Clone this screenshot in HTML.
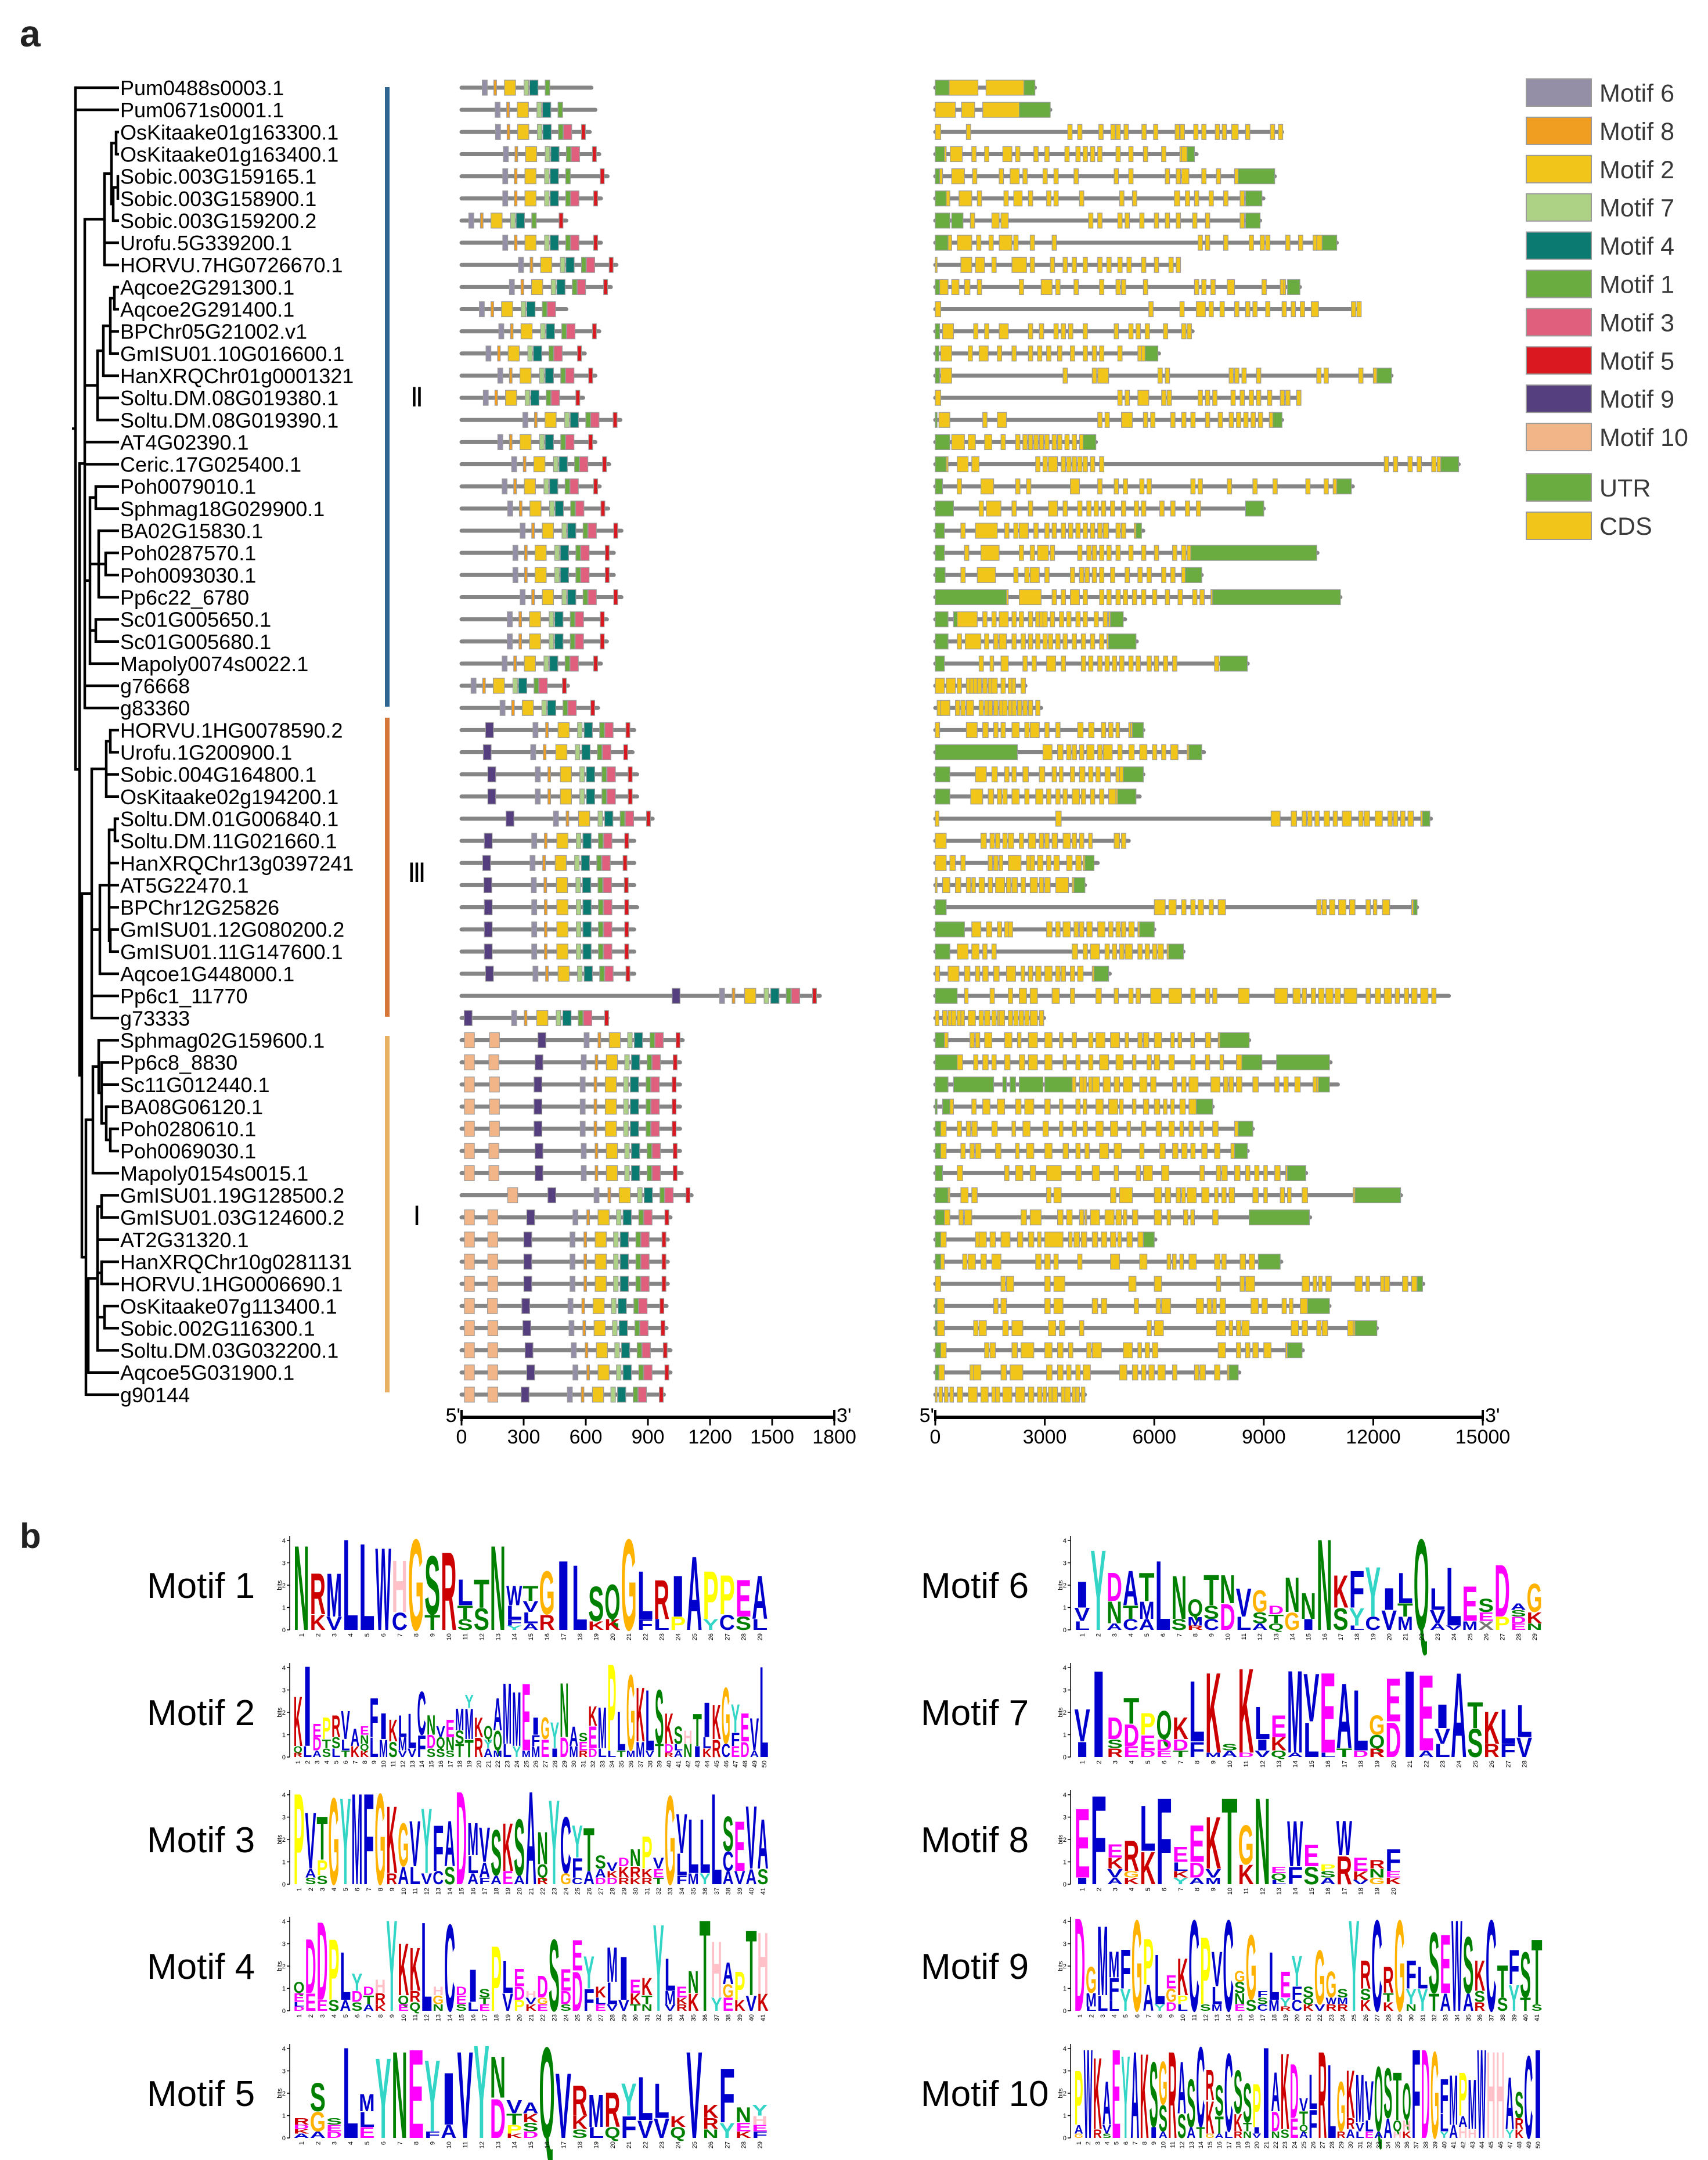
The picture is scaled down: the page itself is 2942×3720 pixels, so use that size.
<!DOCTYPE html>
<html>
<head>
<meta charset="utf-8">
<style>
html,body{margin:0;padding:0;background:#fff;}
svg{display:block;}
text{font-family:"Liberation Sans",Arial,sans-serif;}
</style>
</head>
<body>
<svg id="fig" xmlns="http://www.w3.org/2000/svg" width="2942" height="3720" viewBox="0 0 2942 3720">
<rect x="0" y="0" width="2942" height="3720" fill="#fff"/>
<text x="34" y="80" font-size="64" font-weight="bold" fill="#222">a</text>
<text x="34" y="2666" font-size="60" font-weight="bold" fill="#222">b</text>
</svg>
<script>
// ---------------- DATA ----------------
const geneNames = ["Pum0488s0003.1","Pum0671s0001.1","OsKitaake01g163300.1","OsKitaake01g163400.1","Sobic.003G159165.1","Sobic.003G158900.1","Sobic.003G159200.2","Urofu.5G339200.1","HORVU.7HG0726670.1","Aqcoe2G291300.1","Aqcoe2G291400.1","BPChr05G21002.v1","GmISU01.10G016600.1","HanXRQChr01g0001321","Soltu.DM.08G019380.1","Soltu.DM.08G019390.1","AT4G02390.1","Ceric.17G025400.1","Poh0079010.1","Sphmag18G029900.1","BA02G15830.1","Poh0287570.1","Poh0093030.1","Pp6c22_6780","Sc01G005650.1","Sc01G005680.1","Mapoly0074s0022.1","g76668","g83360","HORVU.1HG0078590.2","Urofu.1G200900.1","Sobic.004G164800.1","OsKitaake02g194200.1","Soltu.DM.01G006840.1","Soltu.DM.11G021660.1","HanXRQChr13g0397241","AT5G22470.1","BPChr12G25826","GmISU01.12G080200.2","GmISU01.11G147600.1","Aqcoe1G448000.1","Pp6c1_11770","g73333","Sphmag02G159600.1","Pp6c8_8830","Sc11G012440.1","BA08G06120.1","Poh0280610.1","Poh0069030.1","Mapoly0154s0015.1","GmISU01.19G128500.2","GmISU01.03G124600.2","AT2G31320.1","HanXRQChr10g0281131","HORVU.1HG0006690.1","OsKitaake07g113400.1","Sobic.002G116300.1","Soltu.DM.03G032200.1","Aqcoe5G031900.1","g90144"];

const protLen = [627,646,619,665,705,673,506,673,748,721,506,665,595,646,587,767,646,713,667,708,772,735,735,772,702,702,673,514,659,
834,826,848,848,923,834,834,834,848,834,834,834,1730,705,
1068,1055,1055,1055,1055,1055,1063,1111,1009,996,996,996,990,990,1009,1009,977];
const protAnchor = [100,162,164,202,199,199,35,199,275,231,86,180,118,175,105,296,175,242,196,223,283,248,248,283,221,221,196,46,186,
116,105,127,127,215,110,102,108,110,110,110,116,1017,13,
369,355,350,350,350,355,355,417,315,301,301,301,291,296,307,315,288];
const protM5 = [-1,-1,579,632,670,638,471,638,713,686,-1,632,560,614,552,732,614,681,638,673,735,694,694,735,670,670,638,487,624,
794,783,805,805,893,788,780,786,788,788,788,794,1695,691,
1036,1022,1017,1017,1017,1022,1022,1084,982,968,968,968,958,963,974,982,955];
const protHas3 = [0,0,1,1,0,1,0,1,1,1,1,1,1,1,1,1,1,1,1,1,1,1,1,1,1,1,1,1,1,
1,1,1,1,1,1,1,1,1,1,1,1,1,1,
1,1,1,1,1,1,1,1,1,1,1,1,1,1,1,1,1];
const protM10 = [[],[],[],[],[],[],[],[],[],[],[],[],[],[],[],[],[],[],[],[],[],[],[],[],[],[],[],[],[],
[],[],[],[],[],[],[],[],[],[],[],[],[],[],
[14,135],[14,132],[14,135],[14,135],[14,135],[14,132],[14,132],[223],[14,127],[14,127],[14,127],[14,127],[14,125],[14,127],[14,127],[14,127],[14,127]];
const protClade = [2,2,2,2,2,2,2,2,2,2,2,2,2,2,2,2,2,2,2,2,2,2,2,2,2,2,2,2,2,
3,3,3,3,3,3,3,3,3,3,3,3,3,3,
1,1,1,1,1,1,1,1,1,1,1,1,1,1,1,1,1];
const tplII  = [[6,0],[8,56],[2,107],[7,202],[4,229],[1,304],[3,328]];
const tplIII = [[9,0],[6,229],[8,290],[2,350],[7,444],[4,476],[1,551],[3,576]];
const tplI   = [[9,0],[6,223],[8,290],[2,344],[7,433],[4,465],[1,541],[3,565]];
const motifWidth = {1:22,2:54,3:40,4:40,5:19,6:24,7:22,8:13,9:38,10:48};

const geneLen = [2.73,3.15,9.5,7.16,9.3,8.99,8.9,11,6.67,9.99,11.6,7.05,6.13,12.5,9.97,9.5,4.4,14.34,11.44,9.0,5.7,10.47,7.3,11.1,5.2,5.52,8.56,2.47,2.9,
5.7,7.36,5.7,5.6,13.58,5.3,4.45,4.1,13.2,6.0,6.8,4.78,14.07,2.98,
8.6,10.83,11.03,7.6,8.7,8.56,10.16,12.76,10.27,6.03,9.48,13.37,10.8,12.1,10.07,8.33,4.1];
const geneExons = [
"U0-.38 C.38-1.17 C1.39-2.43 U2.43-2.73",
"C0-.55 C.72-1.08 C1.3-2.3 U2.3-3.15",
"C0-.15 C.85 C3.63 C3.9 C4.48 C4.81 C4.95 C5.17 C5.66 C5.98 C6.57 C6.71 C7.08 C7.3 C7.67 C7.86 C8.12-8.3 C8.5 C9.18 C9.4",
"U0-.25 C.25-.3 C.41-.74 C1 C1.35 C1.85-2.1 C2.2 C2.7 C3 C3.55 C3.85 C4.05 C4.25 C4.45 C4.95 C5.3 C5.7 C6.2 C6.7 C6.75-6.9 U6.9-7.1",
"U0-.12 C.12-.2 C.45-.8 C1.02 C1.75 C2.05-2.3 C2.4 C2.95 C3.25 C3.8 C4.9 C5.3 C6.3 C6.6 C6.75-6.95 C7.3 C7.7 C8.2 U8.3-9.3",
"U0-.3 C.3-.4 C.65-1.0 C1.15 C1.88 C2.15-2.38 C2.55 C3.05 C3.25 C3.95 C5.05 C5.4 C6.55-6.7 C6.85 C7.1 C7.5 C7.9 C8.35 U8.5-8.95",
"U0-.4 U.45-.76 C.96 C1.55-1.75 C1.8-2.0 C4.2 C4.45 C5.0 C5.2 C5.6 C6.0 C6.3 C6.6 C7.05 C7.4 C8.35 U8.5-8.9",
"U0-.35 C.35-.45 C.6-1.0 C1.13 C1.47 C1.75-2.1 C2.15 C2.6 C3.2 C7.2 C7.4 C7.9 C8.6 C8.9 C9.05 C9.6 C9.95 C10.35 C10.45-10.6 U10.6-11",
"C0-.05 C.7-1.0 C1.1-1.35 C1.55 C2.1-2.5 C2.6 C3.15 C3.5 C3.75 C4.05 C4.45 C4.7 C5.0 C5.25 C5.65 C6.0 C6.4 C6.6",
"U0-.12 C.12-.35 C.45-.65 C.8-.95 C1.15 C2.3 C2.9-3.2 C3.3 C3.8 C4.5 C4.95 C5.1 C5.7 C7.1 C7.3 C7.55 C8.0-8.2 C8.95 C9.45 C9.55-9.6 U9.65-9.99",
"C0-.15 C5.85 C6.7 C7.15-7.4 C7.5 C7.8 C8.2 C8.5 C8.7 C9.05 C9.5 C9.75 C10.0 C10.3-10.5 C11.4 C11.55",
"U0-.12 C.2-.5 C1.05 C1.35 C1.75-2.0 C2.55 C2.85 C3.25 C3.45 C3.65 C4.05 C4.9 C5.3 C5.5 C5.75 C6.25 C6.75 C6.9",
"U0-.1 C.15-.45 C.9 C1.2-1.45 C1.7 C2.1 C2.55 C2.8 C3.05 C3.35 C3.7 C4.05 C4.3 C4.5 C5.0 C5.55 C5.65-5.75 U5.75-6.1",
"U0-.12 C.15-.45 C3.5 C4.3 C4.45-4.75 C6.1 C6.3 C8.05 C8.2 C8.4 C8.8 C10.45 C10.65 C11.6 C12.0-12.1 U12.1-12.5",
"C0-.15 C5.0 C5.2 C5.55-5.85 C6.2 C6.35 C7.2 C7.4 C7.6 C8.1 C8.35 C8.6 C8.8 C9.1 C9.45 C9.6 C9.9",
"U0-.05 C.1-.4 C1.3 C1.7-1.95 C4.45 C4.65 C5.1-5.4 C5.7 C5.9 C6.45 C6.75 C7.0 C7.4 C7.75 C8.05 C8.25 C8.45 C8.65 C8.85 C9.15 U9.25-9.5",
"U0-.4 C.45-.8 C.9-1.1 C1.35-1.55 C1.8 C2.2 C2.4 C2.55 C2.7 C2.85 C3.0 C3.2 C3.35 C3.55 C3.75 C3.95 U4.05-4.4",
"U0-.3 C.3-.35 C.6-.9 C1.0-1.2 C2.75 C2.95 C3.1-3.35 C3.45 C3.6 C3.75 C3.9 C4.05 C4.25 C4.5 C12.3 C12.55 C12.95 C13.2 C13.6 C13.75-13.85 U13.85-14.34",
"U0-.2 C.6 C1.25-1.6 C2.2 C2.5 C3.7-3.95 C4.45 C4.9 C5.15 C5.6 C5.8 C7.0 C7.2 C8.0 C8.7 C9.25 C10.15 C10.65 C10.9-11.0 U11.0-11.4",
"U0-.5 C1.2 C1.4-1.8 C2.1 C2.55 C3.1-3.35 C3.5 C3.9 C4.15 C4.35 C4.55 C4.8 C5.1 C5.45 C5.65 C6.15 C6.45 C6.85 C7.15 U8.5-9.0",
"U0-.25 C.7 C1.1-1.7 C1.9 C2.15 C2.3-2.55 C2.7 C3.0 C3.2 C3.45 C3.65 C3.85 C4.05 C4.25 C4.45 C4.6-4.75 C4.95 C5.1 C5.45-5.5 U5.5-5.65",
"U0-.25 C.8 C1.25-1.75 C2.3 C2.6 C2.8-3.1 C3.15 C3.9 C4.15 C4.3 C4.5 C4.7 C4.95 C5.3 C5.65 C6.0 C6.5 C6.75 C6.9-7.0 U7.0-10.45",
"U0-.27 C.7 C1.15-1.65 C2.15 C2.45 C2.6-2.85 C3.0 C3.7 C3.95 C4.1 C4.3 C4.5 C4.8 C5.2 C5.55 C5.8 C6.2 C6.45 C6.75-6.85 U6.85-7.3",
"U0-1.95 C1.95-2.0 C2.3-2.9 C3.2 C3.45 C3.7-3.95 C4.05 C4.5 C4.7 C4.95 C5.15 C5.4 C5.65 C5.95 C6.3 C6.65 C7.05 C7.25 C7.55-7.6 U7.6-11.1",
"U0-.35 U.5-.6 C.6-1.15 C1.3 C1.55 C1.75-2.0 C2.1 C2.3 C2.55 C2.75 C2.85 C2.95 C3.15 C3.4 C3.6 C3.85 C4.05 C4.35 C4.6 C4.75-4.8 U4.8-5.15",
"U0-.35 C.6 C.82-1.25 C1.35 C1.6 C1.75-1.95 C2.1 C2.35 C2.55 C2.75 C2.95 C3.1 C3.3 C3.5 C3.75 C4.0 C4.25 C4.5 C4.7-4.75 U4.75-5.5",
"U0-.25 C1.2 C1.5-1.6 C1.8-2.0 C2.4 C2.65 C3.05-3.3 C3.45 C4.0 C4.2 C4.45 C4.65 C4.85 C5.05 C5.3 C5.5 C5.8 C6.0 C6.25 C6.5 C7.65 U7.8-8.55",
"C0-.25 C.3-.55 C.6 C.85 C.95 C1.05 C1.15 C1.3 C1.45 C1.55-1.7 C1.8 C2.0 C2.1-2.2 C2.35",
"C.05 C.15-.4 C.55 C.7 C.85-1.05 C1.2 C1.35 C1.45 C1.6 C1.75 C1.85 C2.0 C2.1 C2.25 C2.4 C2.55 C2.75",
"C0 C.85-1.15 C1.3-1.45 C1.6 C1.8 C2.1-2.3 C2.45 C2.6-2.85 C3.0 C3.3 C3.9-4.05 C4.2-4.35 C4.55 C4.75 C4.95-5.05 C5.3 C5.35-5.4 U5.4-5.7",
"U0-2.25 C2.95-3.2 C3.35-3.5 C3.6 C3.75 C3.95 C4.15-4.35 C4.45 C4.6-4.85 C5.0 C5.3-5.45 C5.6-5.8 C5.95 C6.2 C6.45-6.65 C6.9-6.95 U6.95-7.3",
"U0-.4 C1.1-1.4 C1.55-1.7 C1.9 C2.1 C2.4-2.55 C2.85-3.0 C3.2 C3.4-3.5 C3.7 C3.95-4.1 C4.2 C4.4 C4.65-4.8 C4.95-5.05 C5.05-5.15 U5.15-5.7",
"U0-.4 C.97-1.3 C1.45-1.6 C1.7 C1.85 C2.1-2.3 C2.45 C2.75-2.95 C3.05 C3.3 C3.5 C3.75-3.95 C4.0 C4.25 C4.5 C4.75-4.95 C4.95-5.0 U5.0-5.5",
"C0-.1 C3.3-3.45 C9.2-9.45 C9.75-9.9 C10.05 C10.2 C10.4 C10.65-10.8 C10.9 C11.15-11.4 C11.6 C11.75-11.9 C12.05-12.25 C12.4 C12.55 C12.75 C12.95-13.1 C13.3-13.35 U13.35-13.55",
"C0-.3 C1.25-1.4 C1.5 C1.65 C1.85 C2.0-2.15 C2.3 C2.55-2.75 C2.85 C3.0 C3.2-3.35 C3.5-3.7 C3.75 C3.95 C4.2-4.3 C4.9-5.05 C5.1",
"C0-.3 C.4-.55 C.7 C1.45 C1.6 C1.75-1.85 C2.0-2.35 C2.5 C2.6 C2.8-2.95 C3.05 C3.25-3.4 C3.6-3.75 C3.85-4.0 C4.05-4.1 U4.1-4.35",
"C0-.05 C.2-.4 C.55-.7 C.85 C1.0-1.1 C1.2-1.35 C1.45 C1.65-1.9 C1.95 C2.1-2.25 C2.35 C2.6-2.8 C2.85 C3.0-3.15 C3.3-3.65 C3.75 U3.8-4.1",
"U0-.3 C6.0-6.3 C6.4-6.6 C6.75 C7.0 C7.2-7.35 C7.5 C7.75-7.95 C10.45 C10.6 C10.8-10.95 C11.05-11.25 C11.35-11.5 C11.8 C12.0-12.1 C12.25-12.45 C13.05-13.1 U13.1-13.2",
"U0-.8 C1.0-1.25 C1.4-1.55 C1.7 C1.9 C2.0 C3.05-3.2 C3.3 C3.5-3.7 C3.8 C3.95 C4.15-4.3 C4.45-4.65 C4.75 C4.95 C5.1 C5.3-5.45 C5.55-5.6 U5.6-6.0",
"U0-.4 C.6-.9 C1.0-1.2 C1.3 C1.55 C3.75-3.9 C4.05 C4.25-4.5 C4.65 C4.85 C5.05 C5.2-5.4 C5.55 C5.75 C5.95 C6.1-6.25 C6.35-6.4 U6.4-6.8",
"C0 C.35-.65 C.8-.95 C1.1 C1.3-1.45 C1.6-1.75 C1.95-2.2 C2.35-2.45 C2.55 C2.75-2.9 C3.0-3.2 C3.3 C3.45 C3.7 C3.9-4.05 C4.3-4.35 U4.35-4.75",
"U0-.6 C.8-.9 C1.5 C2.0 C2.3-2.5 C2.6-2.8 C3.2-3.4 C3.7 C4.4-4.55 C4.9 C5.3 C5.5 C5.9-6.2 C6.4-6.75 C7.0 C7.4 C7.6 C8.3-8.6 C9.3-9.65 C9.8-10.0 C10.05 C10.3 C10.5-10.65 C10.7-10.9 C10.95-11.1 C11.2-11.55 C11.8 C12.05-12.2 C12.3-12.5 C12.6 C12.85 C13.05-13.2 C13.3-13.5 C13.6",
"C0-.1 C.2 C.35 C.45 C.6 C.7-.8 C.9-1.1 C1.2 C1.35-1.5 C1.55 C1.7 C1.75-1.9 C2.0 C2.15 C2.3 C2.45 C2.6-2.8 C2.85",
"U0-.25 C.25-.35 C.95 C1.1 C1.35-1.55 C1.9-2.1 C2.25-2.35 C2.55-2.8 C3.0-3.2 C3.4-3.5 C3.75 C4.2 C4.4-4.65 C4.8-5.05 C5.2-5.3 C5.55 C5.7-5.85 C6.0-6.2 C6.45-6.55 C6.65-6.75 C7.0-7.1 C7.4-7.55 C7.75-7.8 U7.8-8.6",
"U0-.6 C.6-.75 C1.05 C1.3-1.45 C1.55 C1.9-2.05 C2.3-2.45 C2.55-2.8 C3.0-3.2 C3.5-3.6 C3.85 C4.2 C4.5-4.75 C4.95-5.15 C5.4-5.5 C5.8 C6.0-6.15 C6.4-6.55 C7.0 C7.4 C7.8-7.9 C8.25-8.4 U8.4-8.95 U9.35-10.8",
"U0-.35 U.5-1.6 U1.85-1.95 U2.05-2.2 U2.3-2.95 U3.0-3.75 C3.75-3.85 C3.95 C4.05-4.15 C4.2-4.3 C4.3-4.5 C4.6-4.8 C4.9-5.05 C5.15-5.4 C5.6-5.8 C5.9-6.05 C6.5 C6.75 C6.95-7.2 C7.55-7.8 C7.9 C8.05 C8.25-8.4 C8.7-8.85 C9.3 C9.55 C9.85-10.0 C10.35-10.5 C10.45-10.5 U10.5-10.8",
"U0-.05 U.2-.4 C.4-.5 C1.0 C1.3-1.5 C1.7-1.9 C2.2-2.35 C2.45-2.7 C3.0-3.15 C3.4-3.5 C3.85 C4.05-4.15 C4.4-4.6 C4.75-5.0 C5.05-5.15 C5.4-5.5 C5.7-5.85 C6.0-6.15 C6.25-6.35 C6.45-6.55 C6.7-6.85 C6.95-7.15 U7.15-7.6",
"U0-.15 C.15-.3 C.6 C.85 C1.0-1.15 C1.55-1.7 C2.1-2.2 C2.4-2.6 C2.95-3.1 C3.4-3.5 C3.75 C4.05 C4.4-4.6 C4.8-5.0 C5.25-5.35 C5.65 C6.05-6.2 C6.4-6.55 C6.7-6.8 C6.95 C7.25-7.35 C7.6-7.75 C8.2-8.3 U8.3-8.7",
"U0-.15 C.15-.3 C.7 C.95 C1.1-1.25 C1.65-1.8 C2.2-2.3 C2.5-2.7 C3.0-3.2 C3.5-3.65 C3.85 C4.1 C4.5-4.75 C4.9-5.1 C5.6 C6.15-6.3 C6.5-6.65 C6.75-6.9 C7.0 C7.3-7.45 C7.65-7.8 C8.1-8.2 U8.2-8.55",
"U0-.2 C.6-.75 C1.9 C2.2-2.4 C2.6-2.75 C3.05-3.45 C3.85-4.0 C4.3-4.5 C4.9 C5.5 C5.7-5.95 C6.2-6.4 C7.25 C7.7 C7.85-8.0 C8.2-8.35 C8.5 C8.75 C9.0-9.1 C9.3-9.45 C9.6-9.65 U9.65-10.15",
"U0-.35 C.35-.4 C.7-.9 C1.0-1.15 C3.05 C3.25-3.45 C4.8-4.95 C5.05-5.4 C6.0-6.2 C6.3-6.45 C6.6 C6.75-6.85 C6.9-7.15 C7.3-7.5 C7.65-7.75 C7.85 C8.05-8.2 C8.7-8.85 C9.0-9.1 C9.45 C9.65-9.75 C10.05-10.2 C11.45-11.5 U11.5-12.75",
"U0-.25 C.25-.4 C.65 C.8-1.0 C2.35-2.5 C2.6-2.9 C3.35-3.5 C3.6-3.75 C3.95 C4.1-4.15 C4.25-4.5 C4.65-4.9 C4.95-5.1 C5.15-5.25 C5.4-5.55 C6.0-6.2 C6.35-6.45 C6.8 C7.0-7.1 C7.6-7.75 U8.6-10.25",
"U0-.15 C.15-.3 C1.1 C1.2-1.4 C1.5-1.65 C1.8-2.05 C2.25-2.4 C2.55-2.7 C2.8-2.9 C3.0-3.5 C3.65-3.75 C3.8-3.95 C4.0-4.15 C4.3-4.45 C4.55-4.7 C4.8-4.95 C5.0-5.1 C5.25-5.4 C5.55-5.7 U5.7-6.0",
"U0-.15 C.15-.25 C.75 C.9-1.1 C1.25-1.4 C1.55-1.8 C2.75-2.9 C3.0-3.15 C3.25 C3.9 C4.8-5.05 C5.6-5.8 C6.35-6.45 C6.5-6.6 C6.7-6.8 C6.95-7.15 C7.65-7.8 C7.85 C8.35-8.5 C8.6-8.75 U8.85-9.45",
"C0-.15 C1.8 C1.95-2.15 C3.0-3.15 C3.25-3.55 C5.3-5.5 C6.0-6.2 C7.7 C8.35 C8.5-8.75 C10.05-10.25 C10.35-10.45 C10.5-10.6 C10.7-10.85 C11.5-11.7 C11.8-11.9 C12.2 C12.3-12.45 C12.8-12.95 C13.05-13.2 U13.2-13.35",
"U0-.05 C.05-.25 C1.6 C1.8-1.95 C3.0-3.15 C3.25-3.5 C4.3-4.45 C4.55-4.7 C5.45 C6.05 C6.2-6.45 C7.15-7.35 C7.45 C7.6-7.7 C7.8-7.95 C8.65-8.85 C8.95-9.1 C9.5 C9.7-9.8 C10.0-10.2 U10.2-10.8",
"U0-.05 C.05-.25 C1.05 C1.2-1.4 C1.85-2.0 C2.1-2.4 C3.1-3.3 C3.4-3.55 C3.95 C5.8 C6.0-6.25 C7.7-7.95 C8.05-8.15 C8.25 C8.4-8.6 C9.75-9.95 C10.05-10.2 C10.45 C10.6-10.75 C11.3-11.45 C11.45-11.5 U11.5-12.1",
"U0-.15 C.15-.3 C1.35 C1.5-1.65 C2.1-2.25 C2.35-2.7 C3.0-3.2 C3.35-3.5 C3.65 C4.15 C4.3-4.55 C5.15-5.4 C5.55-5.65 C5.75 C5.95-6.1 C7.75-7.95 C8.25 C8.5 C8.7-8.85 C9.0-9.2 C9.6-9.65 U9.65-10.05",
"U0-.1 C.1-.25 C.95 C1.05-1.25 C1.8-1.95 C2.05-2.4 C3.05-3.2 C3.35-3.5 C3.6 C3.85 C4.05-4.25 C5.05-5.25 C5.4-5.55 C5.65 C5.85-6.0 C6.1-6.3 C6.5 C7.1 C7.25-7.4 C7.65-7.8 C8.0-8.05 U8.05-8.3",
"C0-.05 C.1-.2 C.25-.35 C.4-.5 C.6-.75 C.9-1.15 C1.25-1.45 C1.55 C1.65 C1.85-2.1 C2.2-2.45 C2.55-2.7 C2.8 C2.95-3.05 C3.1 C3.2-3.35 C3.45 C3.55-3.7 C3.75 C3.85-3.95 C4.0-4.1"
];

const protTicks = [0,300,600,900,1200,1500,1800];
const geneTicks = [0,3000,6000,9000,12000,15000];
const legendMotifs = [6,8,2,7,4,1,3,5,9,10];

const logoMotifs = [1,2,3,4,5,6,7,8,9,10];
const logo1 = "N3.9 R1.9K0.7 M2.0V0.6 L4.2 L4.0 W3.8 H2.4C0.8 G4.2 S2.7T0.7 R3.6 L1.2T0.6S0.5 T1.3S1.0 N3.9 W0.9L0.6F0.3Y0.2 T0.7V0.5L0.5A0.3 G2.0R0.7 I3.2 L3.0 S1.6K0.4 Q1.6K0.5 G4.2 L2.2F0.5 R1.8L0.5 I1.9P0.6 A3.4 P2.2Y0.5 P1.8C0.7 E1.7S0.6 A2.0L0.5";
const logo2 = "K2.3Q0.3R0.2 I3.7L0.5 E0.6D0.6A0.3 P1.0T0.4S0.4 R1.0S0.5L0.4 V1.3L0.5T0.3 A0.8K0.5 E0.4N0.4Q0.3K0.3 F1.8L0.9 I1.2M0.8 K1.0S0.7 L1.0M0.6V0.3 L1.6V0.4 C2.0F1.0 N0.9D0.6S0.4 V0.5Q0.5S0.4 E0.8N0.6S0.3 M1.0S0.6T0.6 Y0.6M1.4T0.8 K0.9R0.9 Q0.6Y0.4A0.4 A1.5Q0.9M0.3 M2.8L0.6 M2.5Y0.5 E3.1M0.3 I0.8F0.5M0.5 G1.0E0.8 Y1.2I0.4 N2.5D0.9 A0.9M0.5 S0.4E0.4R0.3 K0.9E1.0D0.4 M1.9L0.4 P4.0L0.3 L1.8T0.3 G3.5M0.3 K2.5M0.7 L2.8V0.3 S2.5T0.6 K1.4D0.4R0.2 S0.8L0.3A0.3 H0.6N0.6 T1.5I0.5 I1.6L0.5K0.4 K1.6R0.8 G2.6C0.6 Y1.3F0.6E0.5 E1.3D0.7 V1.5A0.3 L4.2";
const logo3 = "P4.2 V2.6A0.4S0.3 T2.0P0.7S0.4 G4.0 Y4.0 M4.2 F4.2 G4.2 K3.1R0.5 G2.0A0.8 V2.1L0.8 Y3.0V0.5 F2.1C0.6 A2.1S0.8 D4.3 M1.5L0.8A0.5 V1.6A0.7F0.3 S2.1A0.4 K2.2E0.6 S2.6A0.4 A4.3 N1.5Q0.6R0.3 Y3.9 C2.6G0.5 Y1.5F0.9C0.3 T2.0A0.6 S0.6A0.4D0.3 V0.4K0.3D0.3 D0.4K0.5R0.3 N0.8R0.5K0.3 P1.5K0.4R0.3 V0.5E0.4T0.3 G4.1 V1.8L1.0F0.4 L2.5M0.5 L2.5Y0.5 L4.2 S1.6C0.9A0.6 E2.3V0.6 V2.9A0.7 A2.3S0.7";
const logo4 = "Q0.5E0.4L0.2D0.2 D2.5E0.8 D3.6E0.5 P2.8S0.5 L2.2A0.5 Y0.8D0.5S0.4 D0.4T0.4A0.3 H0.6R0.5K0.3 Y4.2 K2.4Q0.4E0.3 K2.0R0.5Q0.4 L4.1 H0.4G0.4N0.3 C4.0 D0.4E0.4S0.3 I1.5L0.4 S0.4T0.3E0.3 P3.0 L1.5V0.8 E0.8D0.6P0.5 H0.3V0.3K0.3 D1.0G0.3E0.3 S3.3 E1.0D0.6S0.3 E1.4D1.8 Y1.5F1.0 K0.5L0.3E0.3 M1.6L1.0V0.3 I2.0V0.5 E0.6K0.5T0.3 K0.8T0.4N0.3 Y4.0 L1.5M0.6V0.3 E0.5K0.3R0.3 N1.0K0.8 T4.2 H2.6Y0.6 A1.0G0.6E0.6 P1.3K0.5 T3.0V0.7 H2.8K0.8";
const logo5 = "R0.3D0.2K0.2A0.2 S1.3G0.9A0.3 S0.3E0.3D0.3 L4.2 M0.8L0.7E0.5 Y3.7 N4.0 E4.1 Y3.3F0.3 I2.4A0.6 V4.0 Y4.3 N1.9D1.8 V0.6T0.5P0.4K0.2 A0.5K0.4S0.4D0.3 Q4.2 V3.0 R1.4K0.6S0.4 M1.5L0.5 R1.6Q0.5 Y1.5F1.0 L2.0V0.8 L1.6V0.9 K0.5Q0.5 V4.0 K0.6R0.5N0.4 F2.5Y0.7 N0.7E0.4K0.3 Y0.5H0.4E0.3F0.3";
const logo6 = "I1.2V0.6L0.4 Y3.7 D1.3N1.0A0.3 A1.6T0.6C0.5 T1.3M0.8A0.5 L3.2 N2.0S0.5 Q0.8M0.4R0.2 T1.4S0.6C0.5 N1.3D1.2 V1.3L0.6 G1.0S0.5A0.3 D0.4T0.4Q0.3 N1.6G0.8 N1.2I0.5 N4.2 K1.5S1.0 F1.7Y0.8L0.2 Y2.3C0.6 I1.0V0.9 L1.4T0.6M0.6 Q4.2 L1.0V0.6A0.3 L2.7V0.2 E1.6M0.4 S0.6E0.4X0.4 D2.4P0.6 A0.3S0.3D0.3E0.3 G1.3K0.5N0.3";
const logo7 = "V1.5I0.7 I4.0 D1.0S0.4R0.4 T1.2D1.0E0.5 P1.0E0.7D0.3 Q1.3D0.5E0.3 K1.0D0.5T0.3 L2.8F0.7 K3.7M0.2 S0.3A0.3 K3.9D0.2 L1.5I0.5V0.3 E1.0K0.6Q0.3 M3.8A0.2 V2.2L1.6 E3.7L0.2 A3.0T0.4 L2.8D0.3 G0.9Q0.6R0.4 E2.0D1.6 I4.0 E3.5A0.3 I1.1V0.7L0.6 A3.9 T1.2S1.3 K1.5R0.6 L1.6F0.6 L1.5V0.9";
const logo8 = "E3.2I0.3 F4.1 E0.6K0.5V0.4A0.3 R1.4G0.3K0.3 L2.1K1.5 F4.0 E0.7L0.4K0.3Y0.3 E1.7D0.7A0.3 K2.4V0.4M0.3 T4.0 G1.8K0.9 N4.0 E0.3Q0.3L0.2 W2.1F0.8 E1.0S0.8 P0.3S0.3A0.3 W1.6R1.3 E0.6K0.4V0.2 R0.4N0.4G0.3 F1.0E0.3K0.3";
const logo9 = "D4.3 G1.2M0.6L0.2 M3.2L0.7 M1.2F1.0L0.5 F1.8Y1.0 G4.2 P2.1A1.2 L2.3Y0.3 E0.6G0.6D0.4 K1.7P0.4L0.3 C4.2 P3.1S0.3 V1.6L0.8M0.3 C4.2 G0.5S0.5N0.5E0.3 G3.0S0.5 F0.3S0.3C0.3 L2.2M0.5 E1.2Y0.4R0.2 Y1.4F0.6C0.5 S0.5Q0.3K0.3 G2.5V0.3 G1.2W0.3R0.3 S0.4M0.3R0.3 Y4.2 R1.3S0.5K0.5 C4.2 R1.2T0.4K0.4 G4.2 F1.3Y0.7N0.3 L1.0Y1.0 S2.8T0.8 E2.7A0.8 W4.2 S2.6A0.8 K1.4S0.5R0.4 C4.2 T1.5S0.6 F1.6Y1.2 S2.1T0.6 T3.0S0.3";
const logo10 = "P2.5A0.4G0.2 W4.1 K3.3R0.4 A2.0V0.4S0.2 E4.1 Y3.8 A4.0 K3.9 S3.0I0.5 G2.0S1.2A0.3 R4.0 A2.4S1.1 S2.2A0.5 C3.7T0.5 R1.4K1.5G0.2 S1.4T0.8A0.2 C3.6L0.3 S2.0K0.8R0.3 S1.8T0.4N0.3 P2.0I0.3V0.2 I4.2 A1.8D0.9N0.3 K3.5S0.4 D2.5E0.9 V0.6T0.6Q0.3A0.3 L1.6F1.3 R4.0 L3.4 G2.3R0.3 K2.2R0.5A0.4 M2.2V0.4L0.3 V1.8L0.5E0.3 Q3.0A0.3 S2.3A0.9 T2.2Q0.5H0.3 Q1.7H0.5K0.3 F4.1 D4.1 G4.0 F1.6L0.8Y0.3 M2.3A0.6 P2.0A0.5H0.5 M2.3H0.4 W4.1 H4.0 H4.0 A2.4Y0.4 S1.2R0.5K0.4 C3.8 I4.1";
const logoStrings = [logo1,logo2,logo3,logo4,logo5,logo6,logo7,logo8,logo9,logo10];

// ---------------- RENDERING ----------------
const NS = 'http://www.w3.org/2000/svg';
const svg = document.getElementById('fig');
function mk(tag, attrs, parent) {
  const e = document.createElementNS(NS, tag);
  for (const k in attrs) e.setAttribute(k, attrs[k]);
  (parent || svg).appendChild(e);
  return e;
}
const motifColor = {1:'#6aac40',2:'#f2c51a',3:'#e05f7c',4:'#0b7b72',5:'#d9191f',6:'#948fa6',7:'#aed285',8:'#f09e22',9:'#563f7e',10:'#f2b588'};
const rowY = i => 151 + i * 38.15;
const protX = aa => 795 + aa * 0.3567;
const geneX = kb => 1611 + kb * 62.87;

const N = (x, ...c) => ({x, c});
const cladeIItree = N(146, N(180, N(192, N(200,2,3), N(195, N(203,4,5),6)), 7, 8), N(168, N(178, N(190, N(197,9,10),11,12),13), 14, 15), 16, 17, N(155, N(165,18,19), N(170,20,N(182,21,22),23), N(165,24,25), 26), 27, 28);
const cladeIIItree = N(158, N(183, N(190,29,30),31,32), N(172, N(188, N(198,33,34),35,36,37,N(190,38,39)),40), 41, 42);
const cladeItree = N(148, N(160, N(170, 43, N(175, 44, 45, N(183, 46, N(190,47,48)))), 49), N(152, N(168, N(175,50,51), 52, N(168, N(175,53,54), N(180,55,56)), 57), 58), 59);
const treeRoot = N(130, 0, 1, N(137, cladeIItree, N(141, cladeIIItree, cladeItree)));
const treeG = mk('g', {});


function drawTree(n) {
  if (typeof n === 'number') return rowY(n);
  const ys = n.c.map(ch => {
    const y = drawTree(ch);
    const x2 = (typeof ch === 'number') ? 205 : ch.x;
    const h = mk('line', {x1:n.x, y1:y, x2:x2, y2:y, stroke:'#000', 'stroke-width':4.5}, treeG);
    
    
    return y;
  });
  const v = mk('line', {x1:n.x, y1:Math.min(...ys)-2.2, x2:n.x, y2:Math.max(...ys)+2.2, stroke:'#000', 'stroke-width':4.5}, treeG);
  
  
  return (Math.min(...ys) + Math.max(...ys)) / 2;
}
const rootY = drawTree(treeRoot);
const stub = mk('line', {x1:124, y1:rootY, x2:130, y2:rootY, stroke:'#000', 'stroke-width':4}, treeG);



geneNames.forEach((nm, i) => {
  const t = mk('text', {x:207, y:rowY(i)+13, 'font-size':36, fill:'#000'});
  t.textContent = nm;
  
  
});

const cladeBars = [
  {name:'clade-II-bar', y1:150, y2:1217, color:'#2e6590', label:'Ⅱ', ly:700},
  {name:'clade-III-bar', y1:1236, y2:1751, color:'#d4773a', label:'Ⅲ', ly:1519},
  {name:'clade-I-bar', y1:1784, y2:2398, color:'#e8b062', label:'Ⅰ', ly:2110}
];
cladeBars.forEach(c => {
  const r = mk('rect', {x:663, y:c.y1, width:8, height:c.y2-c.y1, fill:c.color});
  
  
  const t = mk('text', {x:718, y:c.ly, 'font-size':46, 'text-anchor':'middle', fill:'#000', 'font-family':'"Liberation Serif","DejaVu Serif",serif'});
  t.textContent = c.label;
  
  
});

function drawBox(g, x, y, w, h, fill, name) {
  const r = mk('rect', {x:x, y:y-h/2, width:Math.max(w,2), height:h, fill:fill, stroke:'#9a9a9a', 'stroke-width':1.2}, g);
  
  
}
for (let i = 0; i < geneNames.length; i++) {
  const y = rowY(i);
  const g = mk('g', {});
  
  
  const ln = mk('line', {x1:protX(0), y1:y, x2:protX(protLen[i]), y2:y, stroke:'#858585', 'stroke-width':7, 'stroke-linecap':'round'}, g);
  
  
  const tpl = protClade[i] === 2 ? tplII : (protClade[i] === 3 ? tplIII : tplI);
  const motifs = [];
  tpl.forEach(([m, off]) => { if (m === 3 && !protHas3[i]) return; motifs.push([m, protAnchor[i] + off]); });
  if (protM5[i] >= 0) motifs.push([5, protM5[i]]);
  protM10[i].forEach(p => motifs.push([10, p]));
  motifs.forEach(([m, st]) => {
    drawBox(g, protX(st), y, motifWidth[m] * 0.3567, 26, motifColor[m], 'motif-' + m + '-box');
  });
}
for (let i = 0; i < geneNames.length; i++) {
  const y = rowY(i);
  const g = mk('g', {});
  
  
  const ln = mk('line', {x1:geneX(0), y1:y, x2:geneX(geneLen[i]), y2:y, stroke:'#858585', 'stroke-width':7, 'stroke-linecap':'round'}, g);
  
  
  geneExons[i].split(' ').forEach(tok => {
    const type = tok[0];
    const body = tok.slice(1);
    let a, b;
    if (body.indexOf('-') > 0) { const p = body.split('-'); a = parseFloat(p[0]); b = parseFloat(p[1]); }
    else { a = parseFloat(body); b = a + 0.12; }
    drawBox(g, geneX(a), y, (b - a) * 62.87, 26, type === 'U' ? '#6aac40' : '#f2c51a', type === 'U' ? 'utr-block' : 'cds-block');
  });
}

function drawAxis(x0, x1, ticks, toX, name) {
  const g = mk('g', {});
  
  
  const l = mk('line', {x1:x0, y1:2441, x2:x1, y2:2441, stroke:'#000', 'stroke-width':6}, g);
  
  
  ticks.forEach(v => {
    const x = toX(v);
    const tk = mk('line', {x1:x, y1:2441, x2:x, y2:2455, stroke:'#000', 'stroke-width':3}, g);
    
    
    const t = mk('text', {x:x, y:2486, 'font-size':34, 'text-anchor':'middle', fill:'#000'}, g);
    t.textContent = v;
    
    
  });
  const e1 = mk('line', {x1:x0, y1:2428, x2:x0, y2:2447, stroke:'#000', 'stroke-width':4}, g);
  
  
  const e2 = mk('line', {x1:x1, y1:2428, x2:x1, y2:2447, stroke:'#000', 'stroke-width':4}, g);
  
  
  const p5 = mk('text', {x:x0-2, y:2449, 'font-size':34, 'text-anchor':'end', fill:'#000'}, g);
  p5.textContent = "5'";
  
  
  const p3 = mk('text', {x:x1+4, y:2449, 'font-size':34, fill:'#000'}, g);
  p3.textContent = "3'";
  
  
}
drawAxis(protX(0), protX(1800), protTicks, v => protX(v), 'protein-length-axis');
drawAxis(geneX(0), geneX(15), geneTicks, v => geneX(v/1000), 'gene-length-axis');

const legG = mk('g', {});


legendMotifs.forEach((m, k) => {
  const top = 136 + k * 65.9;
  const r = mk('rect', {x:2629, y:top, width:112, height:47, fill:motifColor[m], stroke:'#9a9a9a', 'stroke-width':2}, legG);
  
  
  const t = mk('text', {x:2755, y:top+39, 'font-size':43, fill:'#3a3a3a'}, legG);
  t.textContent = 'Motif ' + m;
  
  
});
[['UTR','#6aac40',816],['CDS','#f2c51a',882]].forEach(([lab, col, top]) => {
  const r = mk('rect', {x:2629, y:top, width:112, height:47, fill:col, stroke:'#9a9a9a', 'stroke-width':2}, legG);
  
  
  const t = mk('text', {x:2755, y:top+39, 'font-size':43, fill:'#3a3a3a'}, legG);
  t.textContent = lab;
  
  
});

const aaColor = {A:'#0000cc',C:'#0000cc',F:'#0000cc',I:'#0000cc',L:'#0000cc',M:'#0000cc',V:'#0000cc',W:'#0000cc',
  N:'#008000',Q:'#008000',S:'#008000',T:'#008000',D:'#ff00ff',E:'#ff00ff',K:'#cc0000',R:'#cc0000',
  H:'#ffc0c8',G:'#ffb300',P:'#ffff00',Y:'#33d6c6',X:'#777777'};
const baselines = [2807, 3026, 3245, 3463, 3682];
const BIT = 38.5;
logoMotifs.forEach((m, k) => {
  const col = k < 5 ? 0 : 1;
  const base = baselines[k % 5];
  const axisX = col === 0 ? 499 : 1844;
  const x0 = axisX + 6;
  const cols = logoStrings[k].trim().split(/\s+/);
  const n = cols.length;
  const W = Math.min(n * 28.2, col === 0 ? 819 : 807);
  const cw = W / n;
  const g = mk('g', {});
  
  
  const lab = mk('text', {x: col === 0 ? 253 : 1586, y: base - 55, 'font-size':62, fill:'#000'}, g);
  lab.textContent = 'Motif ' + m;
  
  
  const ax = mk('line', {x1:axisX, y1:base, x2:axisX, y2:base - 4*BIT - 8, stroke:'#000', 'stroke-width':1.5}, g);
  
  
  for (let b = 0; b <= 4; b++) {
    const tk = mk('line', {x1:axisX-5, y1:base-b*BIT, x2:axisX, y2:base-b*BIT, stroke:'#000', 'stroke-width':1.5}, g);
    
    
    const tl = mk('text', {x:axisX-7, y:base-b*BIT+4, 'font-size':11, 'text-anchor':'end', fill:'#000'}, g);
    tl.textContent = b;
    
    
  }
  const bits = mk('text', {x:0, y:0, 'font-size':11, 'text-anchor':'middle', fill:'#000', transform:'translate(' + (axisX-14) + ',' + (base-2*BIT) + ') rotate(-90)'}, g);
  bits.textContent = 'bits';
  
  
  cols.forEach((c, j) => {
    const letters = [...c.matchAll(/([A-Z])([\d.]+)/g)].map(mm => [mm[1], parseFloat(mm[2])]);
    const total = letters.reduce((s, l) => s + l[1], 0);
    let yTop = base - total * BIT;
    const cx = x0 + j * cw;
    letters.forEach(([ch, h]) => {
      const hp = h * BIT;
      const t = mk('text', {x:0, y:0, 'font-size':100, 'font-weight':'bold', fill:aaColor[ch] || '#777',
        textLength:(cw-1).toFixed(2), lengthAdjust:'spacingAndGlyphs',
        transform:'translate(' + (cx+0.5).toFixed(2) + ',' + (yTop+hp).toFixed(2) + ') scale(1,' + (hp/72).toFixed(4) + ')'}, g);
      t.textContent = ch;
      
      
      yTop += hp;
    });
    const nl = mk('text', {x:0, y:0, 'font-size':11, 'text-anchor':'end', fill:'#000', transform:'translate(' + (cx+cw/2+4).toFixed(2) + ',' + (base+6) + ') rotate(-90)'}, g);
    nl.textContent = j + 1;
    
    
  });
});
</script>
</body>
</html>
